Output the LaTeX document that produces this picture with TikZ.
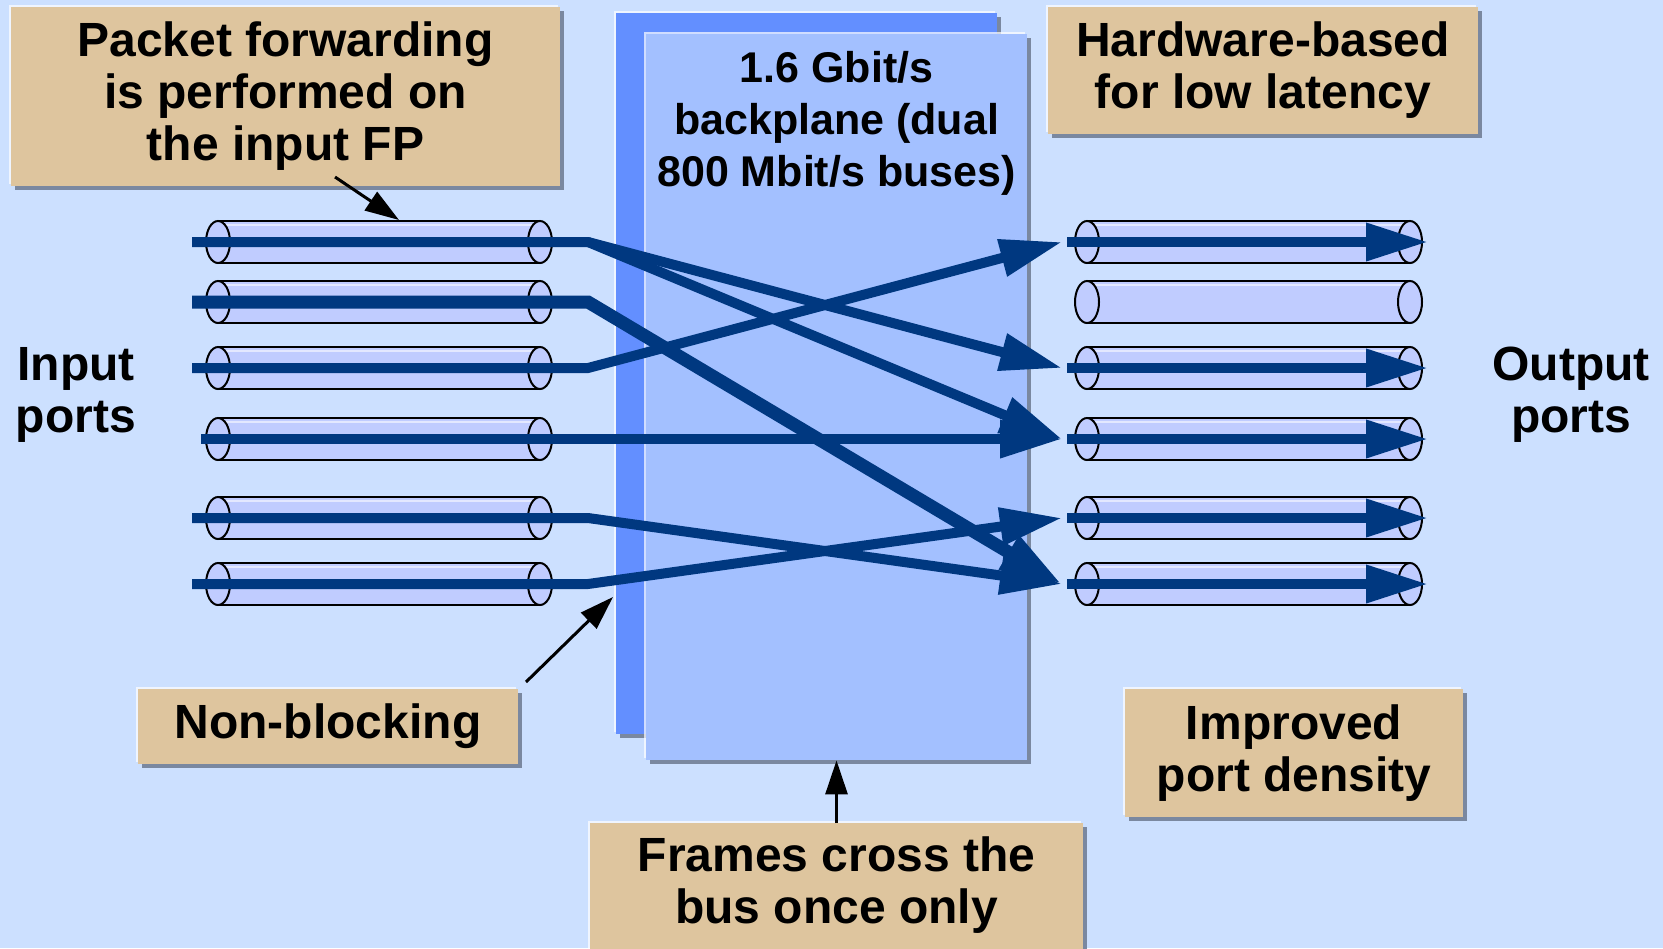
\documentclass[tikz,border=0pt]{standalone}
\usepackage{fontspec}
\setmainfont{Liberation Sans}
\usetikzlibrary{arrows.meta,shadows}

\definecolor{bgblue}{RGB}{204,224,255}
\definecolor{notetan}{RGB}{222,197,158}
\definecolor{planeback}{RGB}{99,143,255}
\definecolor{planefront}{RGB}{163,192,255}
\definecolor{tubefill}{RGB}{192,204,255}
\definecolor{flowblue}{RGB}{0,56,128}
\definecolor{shadowgray}{RGB}{122,136,160}

% a port as a tube: left x, right x, middle y
\newcommand{\porttube}[3]{%
  \fill[tubefill] (#1,#3-21) rectangle (#2,#3+21);
  \draw[white!55!tubefill, line width=1pt] (#1,#3-17) -- (#2,#3-17);
  \draw[line width=1pt] (#1,#3-21) -- (#2,#3-21) (#1,#3+21) -- (#2,#3+21);
  \draw[line width=1pt, fill=tubefill] (#1,#3) ellipse (6pt and 10.5pt);
  \draw[line width=1pt, fill=tubefill] (#2,#3) ellipse (6pt and 10.5pt);
}

\begin{document}
\begin{tikzpicture}[x=0.5pt, y=-0.5pt,
	boxed/.style={inner sep=0pt,
		general shadow={fill=white, opacity=0.7, shadow xshift=-1pt, shadow yshift=1pt},
		drop shadow={fill=shadowgray, opacity=1, shadow xshift=2pt, shadow yshift=-2pt}},
	notebox/.style={boxed, fill=notetan},
	label/.style={align=center, font=\fontsize{24}{26}\selectfont\bfseries},
	flow/.style={draw=flowblue, line width=5pt, -{Triangle[length=31pt,width=18pt]}},
	pointer/.style={draw=black, line width=1.5pt, -{Triangle[length=17pt,width=11pt]}}]
	\fill[bgblue] (0,0) rectangle (1663,948);
	\useasboundingbox (0,0) rectangle (1663,948);

	% backplane
	\node (bpback) [boxed, fill=planeback, minimum width=190.5pt, minimum height=360.5pt] at (806.5,373.5) {};
	\node (bp) [boxed, fill=planefront, minimum width=190.5pt, minimum height=363pt] at (836.5,397) {};
	\node (bptext) [label, font=\fontsize{21.5}{26}\selectfont\bfseries] at (836.5,123) {1.6 Gbit/s\\backplane (dual\\800 Mbit/s buses)};

	% ports
	\foreach \i/\y in {1/242,2/302,3/368,4/439,5/518,6/584} {
		\porttube{218}{540}{\y}
		\porttube{1087}{1410}{\y}
		\coordinate (in\i) at (192,\y);
		\coordinate (k\i) at (588,\y);
		\coordinate (o\i) at (1062,\y);
		\coordinate (r\i) at (1067,\y);
		\coordinate (e\i) at (1428,\y);
	}
	\coordinate (in4) at (201,439);

	% notes
	\node (packet) [notebox, label, minimum width=274.5pt, minimum height=89.5pt] at (285.5,96.5) {Packet forwarding\\is performed on\\the input FP};
	\node (hw) [notebox, label, minimum width=215pt, minimum height=63.5pt] at (1263,70.5) {Hardware-based\\for low latency};
	\node (nonblock) [notebox, label, minimum width=190pt, minimum height=37.5pt] at (328,726.5) {Non-blocking};
	\node (density) [notebox, label, minimum width=169pt, minimum height=64pt] at (1294,753) {Improved\\port density};
	\node (framesbox) [notebox, anchor=north, minimum width=246.5pt, minimum height=80pt] at (836.5,823) {};
	\node (frames) [label] at (836.5,885) {Frames cross the\\bus once only};
	\node (inlabel) [label] at (76,395) {Input\\ports};
	\node (outlabel) [label] at (1571,395) {Output\\ports};

	% switching paths
	\draw[flow] (in1) -- (k1) -- (o3);
	\draw[flow] (k1) -- (o4);
	\draw[flow, line width=6.5pt] (in2) -- (k2) -- (o6);
	\draw[flow] (in3) -- (k3) -- (o1);
	\draw[flow] (in4) -- (o4);
	\draw[flow] (in5) -- (k5) -- (o6);
	\draw[flow] (in6) -- (k6) -- (o5);
	\foreach \i in {1,3,4,5,6}
		\draw[flow] (r\i) -- (e\i);

	% callouts
	\coordinate (pktail) at (335,177);
	\coordinate (pktip) at (399,220);
	\draw[pointer] (pktail) -- (pktip);
	\coordinate (nbtail) at (526,682);
	\coordinate (nbtip) at (613,597);
	\draw[pointer] (nbtail) -- (nbtip);
	\draw[pointer] (framesbox.north) -- (bp.south);
\end{tikzpicture}
\end{document}
